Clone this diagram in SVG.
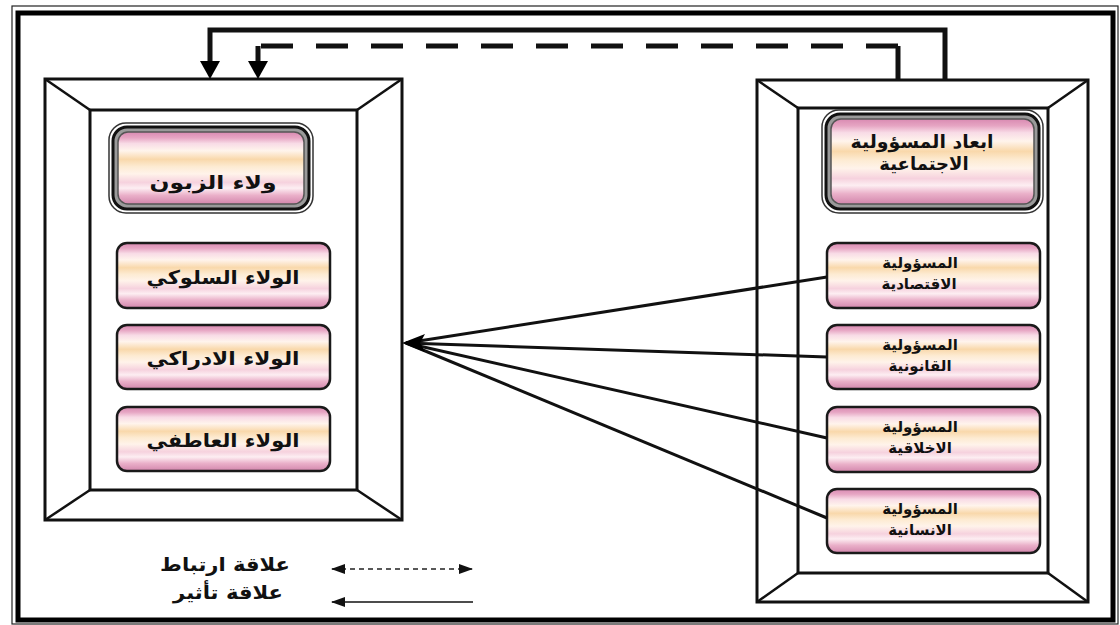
<svg xmlns="http://www.w3.org/2000/svg" width="1120" height="625" viewBox="0 0 1120 625">
  <defs>
    <!-- striped pink / peach fill used by every box -->
    <linearGradient id="stripe" x1="0" y1="0" x2="0" y2="1">
      <stop offset="0" stop-color="#d98ab2"/>
      <stop offset="0.08" stop-color="#e6a5c3"/>
      <stop offset="0.16" stop-color="#f8dbe6"/>
      <stop offset="0.26" stop-color="#fff4ec"/>
      <stop offset="0.38" stop-color="#f9d8ab"/>
      <stop offset="0.48" stop-color="#fdebd2"/>
      <stop offset="0.58" stop-color="#fff3ea"/>
      <stop offset="0.70" stop-color="#f6d2de"/>
      <stop offset="0.78" stop-color="#fdeef2"/>
      <stop offset="0.88" stop-color="#eab0c9"/>
      <stop offset="1" stop-color="#d286ac"/>
    </linearGradient>
    <!-- small legend head, drawn pointing along the line -->
    <marker id="headL" viewBox="0 0 14 10" refX="13" refY="5" markerWidth="14" markerHeight="10" markerUnits="userSpaceOnUse" orient="auto-start-reverse">
      <path d="M0,0 L14,5 L0,10 Z" fill="#111"/>
    </marker>
  </defs>
  <style>
    .frame { fill: none; stroke: #111; stroke-width: 3; }
    .bevel { stroke: #111; stroke-width: 2.5; }
    .box { fill: url(#stripe); stroke: #1a1a1a; stroke-width: 2.5; }
    .lbl { font-family: "DejaVu Sans", sans-serif; font-size: 15px; font-weight: bold; fill: #111; text-anchor: middle; }
    .big { font-size: 19px; }
    .mid { font-size: 18px; }
    .leg { font-family: "DejaVu Sans", sans-serif; font-size: 19px; font-weight: bold; fill: #111; text-anchor: middle; }
    .link { fill: none; stroke: #111; stroke-width: 5; }
    .ray { stroke: #111; stroke-width: 3; fill: none; }
  </style>

  <rect width="1120" height="625" fill="#fff"/>

  <!-- page border: thin outer line and heavy inner line -->
  <rect x="12" y="6" width="1106" height="618" fill="none" stroke="#222" stroke-width="1.2"/>
  <rect x="18" y="13" width="1095" height="607" fill="none" stroke="#000" stroke-width="5"/>

  <!-- left bevelled frame -->
  <g id="frame-left">
    <rect class="frame" x="45" y="79" width="357" height="441"/>
    <rect class="frame" x="90" y="110" width="267" height="380"/>
    <line class="bevel" x1="45" y1="79" x2="90" y2="110"/>
    <line class="bevel" x1="402" y1="79" x2="357" y2="110"/>
    <line class="bevel" x1="45" y1="520" x2="90" y2="490"/>
    <line class="bevel" x1="402" y1="520" x2="357" y2="490"/>
  </g>

  <!-- right bevelled frame -->
  <g id="frame-right">
    <rect class="frame" x="757" y="80" width="331" height="522"/>
    <rect class="frame" x="798" y="108" width="250" height="465"/>
    <line class="bevel" x1="757" y1="80" x2="798" y2="108"/>
    <line class="bevel" x1="1088" y1="80" x2="1048" y2="108"/>
    <line class="bevel" x1="757" y1="602" x2="798" y2="573"/>
    <line class="bevel" x1="1088" y1="602" x2="1048" y2="573"/>
  </g>

  <!-- left column -->
  <g id="customer-loyalty">
    <rect x="109" y="123" width="204" height="90" rx="17" fill="#fff" stroke="#333" stroke-width="1.5"/>
    <rect x="113" y="127" width="196" height="82" rx="14" fill="#9a9a9a" stroke="#111" stroke-width="3"/>
    <rect x="118" y="132" width="186" height="72" rx="10" fill="url(#stripe)" stroke="#555" stroke-width="1.5"/>
    <text class="lbl big" x="213" y="189" textLength="127" lengthAdjust="spacingAndGlyphs">ولاء الزبون</text>
  </g>
  <g id="behavioral-loyalty">
    <rect class="box" x="117" y="243" width="213" height="65" rx="10"/>
    <text class="lbl big" x="223" y="284" textLength="153" lengthAdjust="spacingAndGlyphs">الولاء السلوكي</text>
  </g>
  <g id="cognitive-loyalty">
    <rect class="box" x="117" y="325" width="213" height="64" rx="10"/>
    <text class="lbl big" x="223" y="365" textLength="153" lengthAdjust="spacingAndGlyphs">الولاء الادراكي</text>
  </g>
  <g id="emotional-loyalty">
    <rect class="box" x="117" y="407" width="213" height="64" rx="10"/>
    <text class="lbl big" x="223" y="447" textLength="153" lengthAdjust="spacingAndGlyphs">الولاء  العاطفي</text>
  </g>

  <!-- right column -->
  <g id="csr-dimensions">
    <rect x="822" y="110" width="221" height="103" rx="17" fill="#fff" stroke="#333" stroke-width="1.5"/>
    <rect x="826" y="114" width="213" height="95" rx="14" fill="#9a9a9a" stroke="#111" stroke-width="3"/>
    <rect x="831" y="119" width="203" height="85" rx="10" fill="url(#stripe)" stroke="#555" stroke-width="1.5"/>
    <text class="lbl mid" x="922" y="148" textLength="143" lengthAdjust="spacingAndGlyphs">ابعاد المسؤولية</text>
    <text class="lbl mid" x="924" y="170">الاجتماعية</text>
  </g>
  <g id="economic">
    <rect class="box" x="827" y="243" width="213" height="65" rx="10"/>
    <text class="lbl" x="920" y="268">المسؤولية</text>
    <text class="lbl" x="919" y="289">الاقتصادية</text>
  </g>
  <g id="legal">
    <rect class="box" x="827" y="325" width="213" height="64" rx="10"/>
    <text class="lbl" x="920" y="350">المسؤولية</text>
    <text class="lbl" x="920" y="371">القانونية</text>
  </g>
  <g id="ethical">
    <rect class="box" x="827" y="407" width="213" height="65" rx="10"/>
    <text class="lbl" x="920" y="432">المسؤولية</text>
    <text class="lbl" x="920" y="453">الاخلاقية</text>
  </g>
  <g id="humanitarian">
    <rect class="box" x="827" y="489" width="213" height="64" rx="10"/>
    <text class="lbl" x="920" y="514">المسؤولية</text>
    <text class="lbl" x="920" y="535">الانسانية</text>
  </g>

  <!-- connectors -->
  <g id="connectors">
    <!-- influence: solid feedback loop over the top -->
    <path class="link" d="M945,80 V30 H210 V62"/>
    <path d="M200,61 L220,61 L210,79 Z" fill="#000"/>
    <!-- correlation: dashed loop over the top -->
    <path class="link" d="M898,80 V46"/>
    <path class="link" d="M898,46 H258" stroke-dasharray="32 23"/>
    <path class="link" d="M258,46 V62"/>
    <path d="M248,61 L268,61 L258,79 Z" fill="#000"/>
    <!-- influence rays converging on the left frame -->
    <line class="ray" x1="827" y1="277" x2="406" y2="343"/>
    <line class="ray" x1="827" y1="357" x2="406" y2="343"/>
    <line class="ray" x1="827" y1="438" x2="406" y2="343"/>
    <line class="ray" x1="827" y1="518" x2="406" y2="343"/>
    <path d="M402,343 L425,334 L420,343 L425,352 Z" fill="#000"/>
  </g>

  <!-- legend -->
  <g id="legend">
    <text class="leg" x="225" y="571" textLength="130" lengthAdjust="spacingAndGlyphs">علاقة ارتباط</text>
    <text class="leg" x="228" y="599" textLength="110" lengthAdjust="spacingAndGlyphs">علاقة تأثير</text>
    <line x1="332" y1="569" x2="472" y2="569" stroke="#222" stroke-width="1.5" stroke-dasharray="5 4" marker-start="url(#headL)" marker-end="url(#headL)"/>
    <line x1="332" y1="602" x2="473" y2="602" stroke="#111" stroke-width="1.5" marker-start="url(#headL)"/>
  </g>
</svg>
